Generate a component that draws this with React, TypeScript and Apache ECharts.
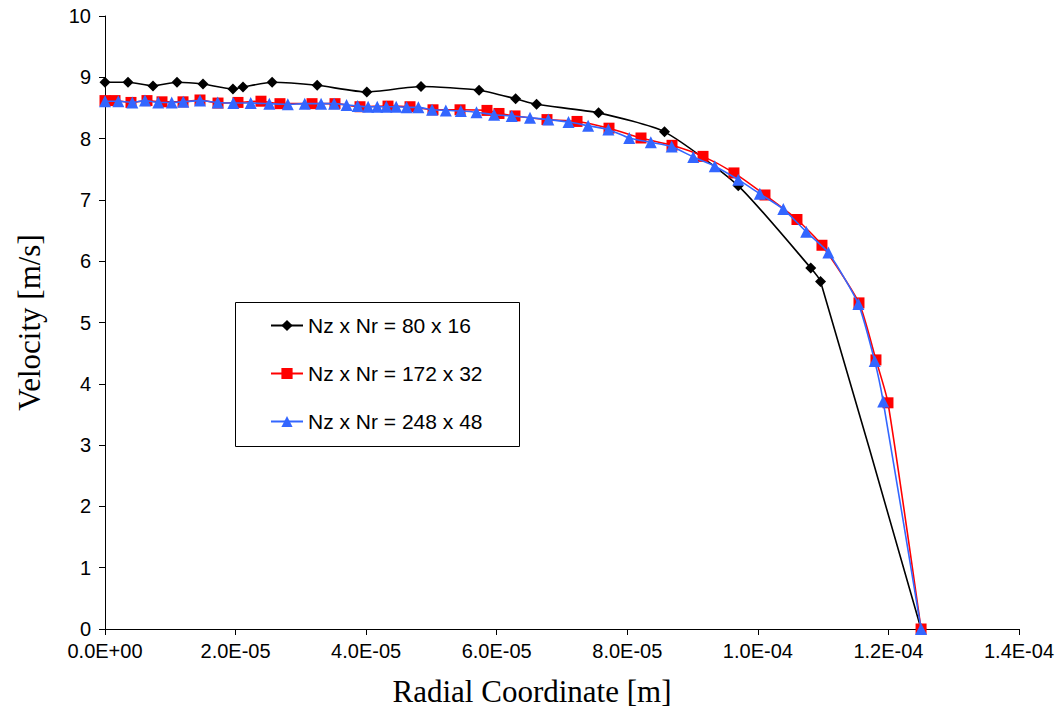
import React, { useEffect, useRef } from "react";
import * as echarts from "echarts";

// Radial coordinate values are in units of 1e-5 m (converted below)
const R_UNIT = 1e-5;

const r80 = [0, 0.352, 0.735, 1.103, 1.501, 1.96, 2.114, 2.56, 3.25, 4.01, 4.84, 5.73, 6.29, 6.61, 7.56, 8.57, 9.70, 10.81, 10.96, 12.5];
const v80 = [8.92, 8.92, 8.86, 8.92, 8.89, 8.81, 8.84, 8.92, 8.87, 8.76, 8.85, 8.79, 8.65, 8.56, 8.42, 8.11, 7.23, 5.89, 5.67, 0];

const r172 = [0, 0.153, 0.398, 0.643, 0.873, 1.195, 1.455, 1.731, 2.037, 2.389, 2.68, 3.171, 3.523, 3.906, 4.335, 4.672, 5.024, 5.438, 5.851, 6.035, 6.28, 6.77, 7.23, 7.72, 8.21, 8.685, 9.16, 9.634, 10.109, 10.599, 10.982, 11.549, 11.809, 11.993, 12.5];
const v172 = [8.62, 8.62, 8.59, 8.62, 8.6, 8.6, 8.63, 8.58, 8.59, 8.61, 8.57, 8.57, 8.57, 8.52, 8.53, 8.52, 8.47, 8.47, 8.46, 8.41, 8.37, 8.31, 8.28, 8.17, 8.01, 7.89, 7.71, 7.44, 7.08, 6.68, 6.26, 5.32, 4.39, 3.69, 0];

const r248 = [0, 0.204, 0.418, 0.613, 0.816, 1.022, 1.199, 1.455, 1.726, 1.965, 2.232, 2.517, 2.8, 3.06, 3.31, 3.51, 3.7, 3.87, 4.03, 4.17, 4.31, 4.46, 4.62, 4.8, 5.01, 5.22, 5.45, 5.69, 5.96, 6.23, 6.51, 6.79, 7.1, 7.4, 7.71, 8.03, 8.36, 8.68, 9.01, 9.34, 9.7, 10.03, 10.39, 10.74, 11.08, 11.54, 11.79, 11.92, 12.5];
const v248 = [8.61, 8.61, 8.59, 8.62, 8.59, 8.59, 8.6, 8.62, 8.59, 8.58, 8.58, 8.57, 8.56, 8.57, 8.57, 8.57, 8.55, 8.53, 8.52, 8.52, 8.52, 8.52, 8.51, 8.51, 8.47, 8.46, 8.45, 8.43, 8.39, 8.37, 8.34, 8.31, 8.27, 8.21, 8.15, 8.01, 7.94, 7.87, 7.7, 7.55, 7.33, 7.1, 6.85, 6.48, 6.14, 5.3, 4.37, 3.71, 0];

const seriesNames = ["Nz x Nr = 80 x 16", "Nz x Nr = 172 x 32", "Nz x Nr = 248 x 48"];
const xTickValues = { min: 0, max: 14, interval: 2 }; // in 1e-5 m
const yTicks = { min: 0, max: 10, interval: 1 };

function pairs(r: number[], v: number[]) {
  return r.map((x, i) => [x * R_UNIT, v[i]]);
}

function sci(v: number): string {
  if (Math.abs(v) < 1e-15) return "0.0E+00";
  let e = Math.floor(Math.log10(Math.abs(v)) + 1e-9);
  let m = v / Math.pow(10, e);
  let s = m.toFixed(1);
  if (s === "10.0") { e += 1; s = "1.0"; }
  return s + "E" + (e < 0 ? "-" : "+") + String(Math.abs(e)).padStart(2, "0");
}

export default function App() {
  const ref = useRef<HTMLDivElement>(null);
  useEffect(() => {
    if (!ref.current) return;
    const chart = echarts.init(ref.current, null, { renderer: "svg" });
    const tickFont = { fontFamily: "Liberation Sans, Arial, sans-serif", fontSize: 20, color: "#000" };
    chart.setOption({
      animation: false,
      backgroundColor: "#fff",
      grid: { left: 105, top: 16, right: 44, bottom: 88, containLabel: false },
      xAxis: {
        type: "value",
        min: xTickValues.min * R_UNIT,
        max: xTickValues.max * R_UNIT,
        interval: xTickValues.interval * R_UNIT,
        name: "Radial Coordinate [m]",
        nameLocation: "middle",
        nameGap: 47,
        nameTextStyle: { fontFamily: "Liberation Serif, Times New Roman, serif", fontSize: 31, color: "#000", padding: [0, 60, 0, 0] },
        axisLine: { lineStyle: { color: "#000", width: 1 } },
        axisTick: { show: true, inside: false, length: 6, lineStyle: { color: "#000" } },
        axisLabel: { ...tickFont, margin: 12, formatter: (v: number) => sci(v) },
        splitLine: { show: false },
      },
      yAxis: {
        type: "value",
        min: yTicks.min,
        max: yTicks.max,
        interval: yTicks.interval,
        name: "Velocity [m/s]",
        nameLocation: "middle",
        nameGap: 60,
        nameTextStyle: { fontFamily: "Liberation Serif, Times New Roman, serif", fontSize: 31, color: "#000" },
        axisLine: { show: true, lineStyle: { color: "#000", width: 1 } },
        axisTick: { show: true, inside: false, length: 6, lineStyle: { color: "#000" } },
        axisLabel: { ...tickFont, margin: 14 },
        splitLine: { show: false },
      },
      legend: {
        orient: "vertical",
        left: 270,
        top: 315,
        padding: 0,
        itemWidth: 32,
        itemHeight: 14,
        itemGap: 27,
        textStyle: { fontFamily: "Liberation Sans, Arial, sans-serif", fontSize: 21, color: "#000", lineHeight: 21, padding: [0, 0, 0, 0] },
        data: seriesNames,
      },
      graphic: [
        {
          type: "rect",
          left: 233,
          top: 300,
          shape: { width: 284, height: 144 },
          style: { fill: "none", stroke: "#000", lineWidth: 1 },
          z: -1,
          silent: true,
        },
      ],
      series: [
        {
          name: seriesNames[0],
          type: "line",
          data: pairs(r80, v80),
          smooth: 0.2,
          symbol: "diamond",
          symbolSize: 11,
          itemStyle: { color: "#000" },
          lineStyle: { color: "#000", width: 1.6 },
          z: 2,
        },
        {
          name: seriesNames[1],
          type: "line",
          data: pairs(r172, v172),
          smooth: 0.2,
          symbol: "rect",
          symbolSize: 11,
          itemStyle: { color: "#ff0000" },
          lineStyle: { color: "#ff0000", width: 1.6 },
          z: 3,
        },
        {
          name: seriesNames[2],
          type: "line",
          data: pairs(r248, v248),
          smooth: 0.2,
          symbol: "triangle",
          symbolSize: 12,
          itemStyle: { color: "#3366ff" },
          lineStyle: { color: "#3366ff", width: 1.6 },
          z: 4,
        },
      ],
    });
    return () => chart.dispose();
  }, []);
  return <div ref={ref} style={{ width: 1063, height: 717, position: "absolute", left: 0, top: 0 }} />;
}
